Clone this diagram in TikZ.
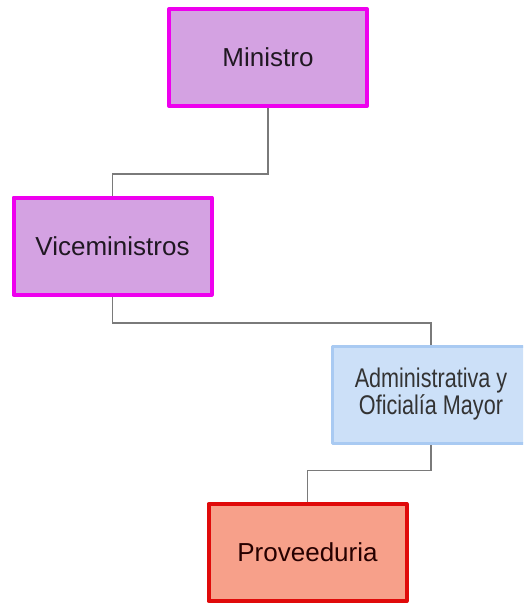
\documentclass[tikz,border=0pt]{standalone}
\usepackage{fontspec}
\setmainfont{Liberation Sans}
\usepackage{graphicx}
\usetikzlibrary{backgrounds}
\definecolor{lila}{HTML}{D4A2E2}
\definecolor{fucsia}{HTML}{EE00EE}
\definecolor{celeste}{HTML}{CCE0F8}
\definecolor{celesteborde}{HTML}{A9CAF2}
\definecolor{salmon}{HTML}{F7A08A}
\definecolor{rojo}{HTML}{E00A0A}
\definecolor{gris}{HTML}{7A7A7A}
\begin{document}
\begin{tikzpicture}[x=1pt, y=-1pt, line join=round,
	caja/.style={draw, line width=4pt, minimum width=198pt, minimum height=97pt, inner sep=0pt, align=center, font=\fontsize{26}{28}\selectfont},
	jefe/.style={caja, fill=lila, draw=fucsia, text=black!85!lila},
	admin/.style={caja, line width=3pt, fill=celeste, draw=celesteborde, text=black!80},
	prov/.style={caja, fill=salmon, draw=rojo, text=black!75!red!60!black},
	enlace/.style={draw=gris, line width=1.4pt}]
	% Marco de la figura
	\clip (0,0) rectangle (523,604);
	% Cajas del organigrama
	\node[jefe] (min) at (268,57.5) {Ministro};
	\node[jefe] (vic) at (112.5,246) {Viceministros};
	\node[admin] (adm) at (431,394.5) {\scalebox{0.8}[1]{\fontsize{27}{22}\selectfont
		\begin{tabular}{@{}c@{}}Administrativa y\\Oficialía Mayor\end{tabular}}};
	\node[prov] (pro) at (307.5,552.5) {Proveeduria};
	% Conectores
	\begin{scope}[on background layer]
		\draw[enlace] (min.south) -- ++(0,66) -| (vic.north);
		\draw[enlace] (vic.south) -- ++(0,26.5) -| (adm.north);
		\draw[enlace] (adm.south) -- ++(0,26) -| (pro.north);
	\end{scope}
\end{tikzpicture}
\end{document}
